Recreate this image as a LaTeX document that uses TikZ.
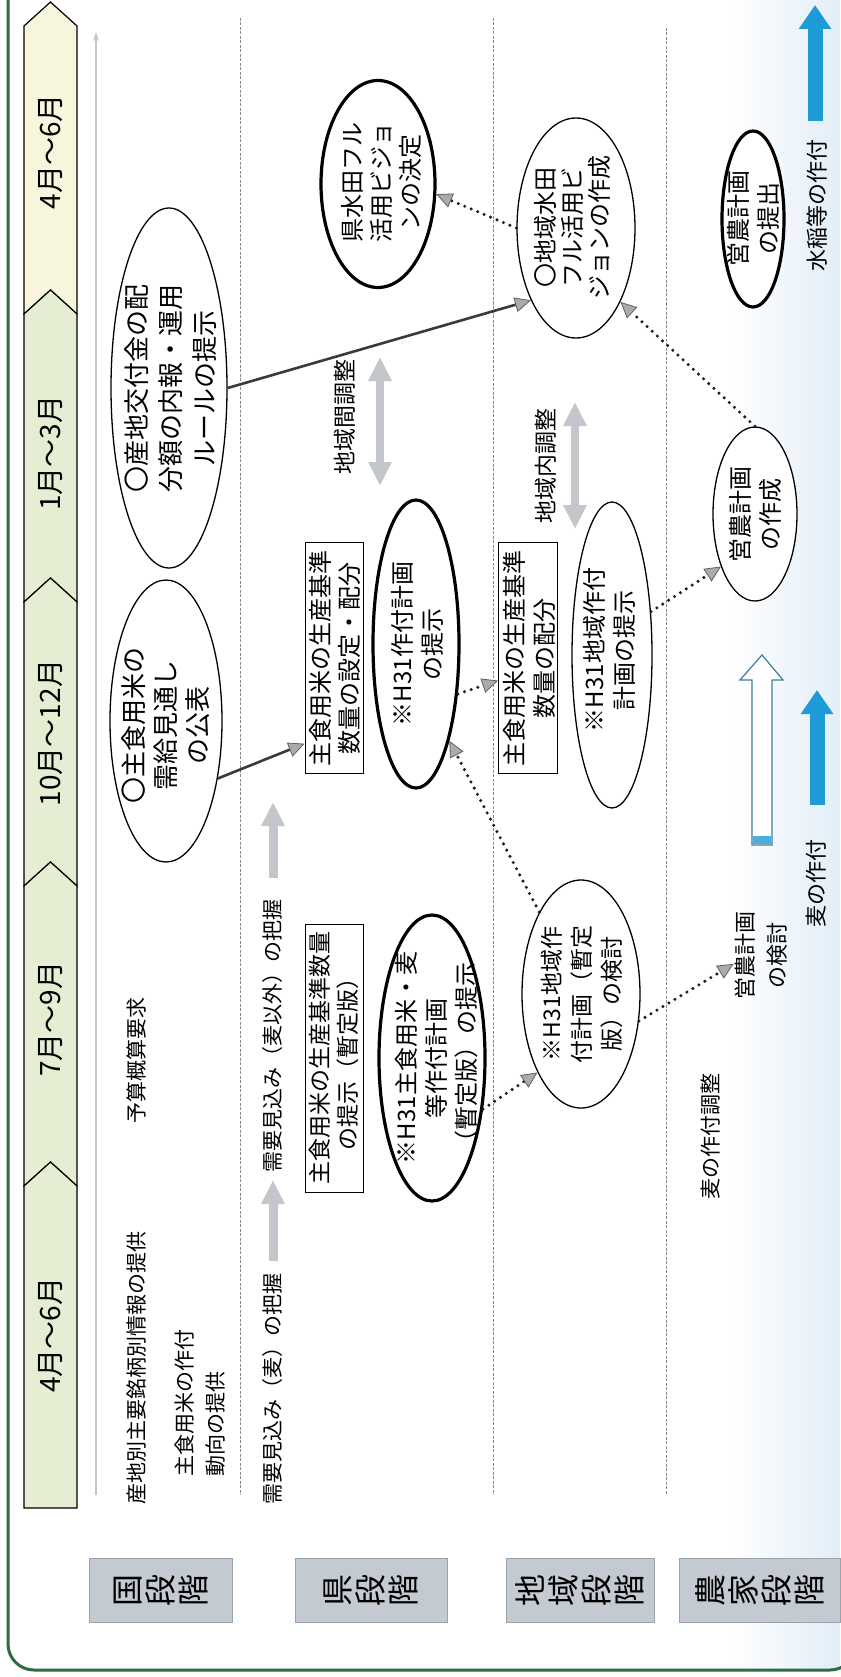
\documentclass[tikz,border=0pt]{standalone}
\usepackage{fontspec}
\setmainfont{Noto Sans CJK JP}
\usetikzlibrary{arrows.meta,shapes.geometric,calc}
\definecolor{framegreen}{HTML}{2F6B45}
\definecolor{hdrcream}{HTML}{F7F5DC}
\definecolor{hdrgreen}{HTML}{E5EDD3}
\definecolor{stagefill}{HTML}{C4CAD2}
\definecolor{stageline}{HTML}{9AA2AA}
\definecolor{divgray}{HTML}{8A8A8A}
\definecolor{headgray}{HTML}{A8ACAF}
\definecolor{headline}{HTML}{5E6265}
\definecolor{blockgray}{HTML}{C3C7CB}
\definecolor{arrowblue}{HTML}{1E9AD6}
\definecolor{hollowline}{HTML}{3C7D9E}
\definecolor{washblue}{HTML}{E2EEF7}
\definecolor{dotdark}{HTML}{1E1E1E}
\definecolor{linedark}{HTML}{3A3A3A}
\begin{document}
\begin{tikzpicture}[x=1pt,y=-1pt,
  every node/.style={inner sep=1pt},
  hdrtext/.style={rotate=90, font=\fontsize{28}{30}\selectfont},
  stagebox/.style={rotate=90, draw=stageline, fill=stagefill, line width=0.8pt, minimum width=64pt, align=center, inner sep=0pt, font=\fontsize{32}{33}\selectfont},
  ellthin/.style={ellipse, draw=black, fill=white, line width=1.3pt, inner sep=0pt},
  ellthick/.style={ellthin, line width=3.2pt},
  elltext/.style={rotate=90, align=center, font=\fontsize{24}{30}\selectfont},
  boxnode/.style={rectangle, draw=black, fill=white, line width=1pt, inner sep=0pt},
  boxtext/.style={rotate=90, align=center, font=\fontsize{24}{29}\selectfont},
  plaintext/.style={rotate=90, font=\fontsize{21}{31}\selectfont},
  tipgray/.style={-{Triangle[length=16pt,width=15pt,color=headline,fill=headgray,line width=0.8pt]}},
  dotarrow/.style={draw=dotdark, line width=3.4pt, line cap=round, dash pattern=on 0pt off 7pt, tipgray},
  solidarrow/.style={draw=linedark, line width=2.6pt, tipgray},
  grayblock/.style={draw=blockgray, line width=9pt, -{Triangle[length=24pt,width=22pt,color=blockgray,fill=blockgray]}},
  graydouble/.style={draw=blockgray, line width=8pt, {Triangle[length=24pt,width=22pt,color=blockgray,fill=blockgray]}-{Triangle[length=24pt,width=22pt,color=blockgray,fill=blockgray]}},
  bluearrow/.style={draw=arrowblue, line width=15pt, -{Triangle[length=24pt,width=31pt,color=arrowblue,fill=arrowblue]}}
]
\useasboundingbox (0,0) rectangle (840,1677);
\fill[white] (0,0) rectangle (840,1677);
% background wash
\shade[left color=white, right color=washblue] (730,0) rectangle (840,1668);
% frame
\draw[framegreen, line width=3pt, rounded corners=26pt] (8,-30) -- (8,1670) -- (856,1670) -- (856,-30);
% header band
\filldraw[fill=hdrcream, draw=black, line width=1.2pt] (24,26) -- (50.5,2) -- (77,26) -- (77,314) -- (50.5,290) -- (24,314) -- cycle;
\filldraw[fill=hdrgreen, draw=black, line width=1.2pt] (24,314) -- (50.5,290) -- (77,314) -- (77,602) -- (50.5,578) -- (24,602) -- cycle;
\filldraw[fill=hdrgreen, draw=black, line width=1.2pt] (24,602) -- (50.5,578) -- (77,602) -- (77,886) -- (50.5,862) -- (24,886) -- cycle;
\filldraw[fill=hdrgreen, draw=black, line width=1.2pt] (24,886) -- (50.5,862) -- (77,886) -- (77,1186) -- (50.5,1162) -- (24,1186) -- cycle;
\filldraw[fill=hdrgreen, draw=black, line width=1.2pt] (24,1186) -- (50.5,1162) -- (77,1186) -- (77,1508) -- (24,1508) -- cycle;
\node[hdrtext] (h1) at (50.5,152) {4月～6月};
\node[hdrtext] (h2) at (50.5,453) {1月～3月};
\node[hdrtext] (h3) at (50.5,733) {10月～12月};
\node[hdrtext] (h4) at (50.5,1019) {7月～9月};
\node[hdrtext] (h5) at (50.5,1335) {4月～6月};
% axis and dividers
\draw[gray!45, line width=1.3pt, -{Stealth[length=9pt,width=6pt]}] (96,1495) -- (96,32);
\draw[divgray, line width=1pt, dash pattern=on 3pt off 1.5pt] (240,18) -- (240,1495);
\draw[divgray, line width=1pt, dash pattern=on 3pt off 1.5pt] (493,18) -- (493,1495);
\draw[divgray, line width=1pt, dash pattern=on 3pt off 1.5pt] (666,28) -- (666,1495);
% stage labels
\node[stagebox, minimum height=143pt] (s1) at (161,1590) {国\\段\\階};
\node[stagebox, minimum height=152pt] (s2) at (371,1590) {県\\段\\階};
\node[stagebox, minimum height=148pt] (s3) at (580,1590) {地\\域\\段\\階};
\node[stagebox, minimum height=161pt] (s4) at (760,1590) {農\\家\\段\\階};
% ellipses
\node[ellthin, minimum width=116pt, minimum height=360pt] (e5) at (169,388) {};
\node[elltext, font=\fontsize{26}{34}\selectfont] (e5t) at (171,388) {〇産地交付金の配\\分額の内報・運用\\ルールの提示};
\node[ellthin, minimum width=112pt, minimum height=282pt] (e4) at (166,721) {};
\node[elltext, font=\fontsize{26}{32}\selectfont] (e4t) at (166,725) {〇主食用米の\\需給見通し\\の公表};
\node[ellthick, minimum width=114pt, minimum height=207pt] (e19) at (378,184) {};
\node[elltext, font=\fontsize{24}{29}\selectfont] (e19t) at (381,183) {県水田フル\\活用ビジョ\\ンの決定};
\node[ellthick, minimum width=86pt, minimum height=288pt] (e10) at (416,644) {};
\node[elltext] (e10t) at (417,644) {※H31作付計画\\の提示};
\node[ellthick, minimum width=106pt, minimum height=286pt] (e8) at (432,1058) {};
\node[elltext] (e8t) at (437,1058) {※H31主食用米・麦\\等作付計画\\（暫定版）の提示};
\node[ellthin, minimum width=118pt, minimum height=220pt] (e18) at (576,228) {};
\node[elltext, font=\fontsize{24}{27}\selectfont] (e18t) at (572,228) {〇地域水田\\フル活用ビ\\ジョンの作成};
\node[ellthin, minimum width=80pt, minimum height=306pt] (e15) at (612,655) {};
\node[elltext] (e15t) at (609,650) {※H31地域作付\\計画の提示};
\node[ellthin, minimum width=118pt, minimum height=228pt] (e12) at (581,994) {};
\node[elltext, font=\fontsize{23}{30}\selectfont] (e12t) at (582,994) {※H31地域作\\付計画（暫定\\版）の検討};
\node[ellthin, minimum width=84pt, minimum height=174pt] (e22) at (755,514) {};
\node[elltext] (e22t) at (755,514) {営農計画\\の作成};
\node[ellthick, minimum width=62pt, minimum height=176pt] (e24) at (753,219) {};
\node[elltext] (e24t) at (753,219) {営農計画\\の提出};
% boxes
\node[boxnode, minimum width=58pt, minimum height=231pt] (b9) at (334,658) {};
\node[boxtext] (b9t) at (335,658) {主食用米の生産基準\\数量の設定・配分};
\node[boxnode, minimum width=58pt, minimum height=268pt] (b7) at (334,1058) {};
\node[boxtext, font=\fontsize{23}{28}\selectfont] (b7t) at (334,1058) {主食用米の生産基準数量\\の提示（暫定版）};
\node[boxnode, minimum width=59pt, minimum height=231pt] (b16) at (528,658) {};
\node[boxtext, font=\fontsize{24}{30}\selectfont] (b16t) at (529,658) {主食用米の生産基準\\数量の配分};
% plain texts
\node[plaintext, anchor=west] (t1) at (137,1506) {産地別主要銘柄別情報の提供};
\node[plaintext, anchor=west] (t2) at (136,1125) {予算概算要求};
\node[plaintext, anchor=west, align=left] (t3) at (200,1478) {主食用米の作付\\動向の提供};
\node[plaintext, anchor=west] (t4) at (273,1506) {需要見込み（麦）の把握};
\node[plaintext, anchor=west] (t5) at (273,1174) {需要見込み（麦以外）の把握};
\node[plaintext, font=\fontsize{23}{30}\selectfont] (t6) at (345,417) {地域間調整};
\node[plaintext, font=\fontsize{23}{30}\selectfont] (t7) at (546,466) {地域内調整};
\node[plaintext, anchor=west] (t8) at (711,1201) {麦の作付調整};
\node[plaintext, align=center, font=\fontsize{22}{32}\selectfont] (t9) at (761,955) {営農計画\\の検討};
\node[plaintext, font=\fontsize{22}{30}\selectfont] (t10) at (816,883) {麦の作付};
\node[plaintext, font=\fontsize{22}{30}\selectfont] (t11) at (817,206) {水稲等の作付};
% block arrows
\coordinate (ar2e) at (273,802);
\draw[grayblock, shorten <=12pt, shorten >=6pt] (t4.east) -- (t5.west);
\draw[grayblock, shorten <=21pt] (t5.east) -- (ar2e);
\coordinate (da1a) at (380,357);
\coordinate (da1b) at (380,486);
\draw[graydouble] (da1a) -- (da1b);
\coordinate (da2a) at (575,402);
\coordinate (da2b) at (575,529);
\draw[graydouble] (da2a) -- (da2b);
\coordinate (bl1a) at (817,805);
\coordinate (bl1b) at (817,690);
\draw[bluearrow] (bl1a) -- (bl1b);
\coordinate (bl2a) at (815,121);
\coordinate (bl2b) at (815,5);
\draw[bluearrow] (bl2a) -- (bl2b);
\filldraw[fill=white, draw=hollowline, line width=1.2pt] (752,845) -- (752,680) -- (740,680) -- (762,655) -- (783,680) -- (772,680) -- (772,845) -- cycle;
\fill[arrowblue!80] (752.6,836) rectangle (771.4,844.4);
% connectors
\draw[solidarrow] (e4.312) -- (b9.251);
\draw[solidarrow] (e5.0) -- (e18.238);
\draw[dotarrow] (e18.180) -- (e19.-10);
\draw[dotarrow] (e22.90) -- (e18.-59);
\draw[dotarrow] (e15.48) -- (e22.237);
\draw[dotarrow] (e10.-50) -- (b16.217);
\draw[dotarrow] (e12.117) -- (e10.-71);
\draw[dotarrow] (e8.-45) -- (e12.241);
\draw[dotarrow] (e12.-25) -- (t9.108);
\end{tikzpicture}
\end{document}
